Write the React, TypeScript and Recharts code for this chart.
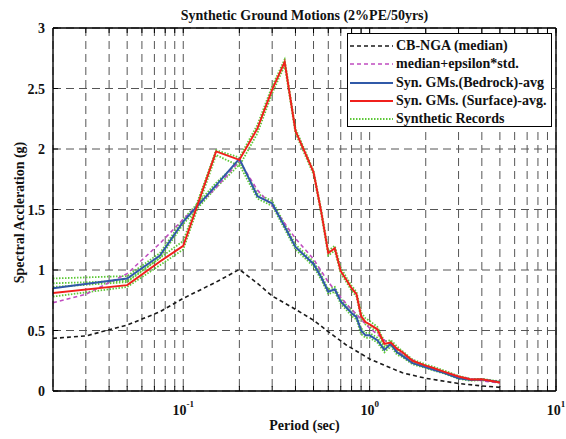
import React from 'react';
import { LineChart, Line, XAxis, YAxis, CartesianGrid, Legend } from 'recharts';

// Periods (sec) used by the synthetic ground-motion spectra
const periods = [0.02, 0.05, 0.075, 0.1, 0.15, 0.2, 0.25, 0.3, 0.35, 0.4, 0.5, 0.55, 0.6, 0.65, 0.7, 0.75, 0.8, 0.85, 0.9, 0.95, 1.0, 1.1, 1.2, 1.3, 1.4, 1.5, 1.7, 2.0, 2.2, 2.5, 3.0, 3.5, 4.0, 5.0];

// Average spectra (g)
const surfaceAvg = [0.81, 0.875, 1.07, 1.2, 1.98, 1.91, 2.17, 2.49, 2.72, 2.15, 1.81, 1.48, 1.14, 1.18, 0.99, 0.92, 0.85, 0.8, 0.62, 0.57, 0.55, 0.51, 0.39, 0.4, 0.35, 0.32, 0.25, 0.21, 0.19, 0.16, 0.12, 0.095, 0.097, 0.07];
const bedrockAvg = [0.85, 0.93, 1.12, 1.4, 1.7, 1.92, 1.61, 1.55, 1.36, 1.19, 1.05, 0.94, 0.82, 0.84, 0.74, 0.69, 0.645, 0.61, 0.5, 0.46, 0.46, 0.42, 0.34, 0.39, 0.32, 0.29, 0.23, 0.195, 0.175, 0.15, 0.105, 0.09, 0.095, 0.075];

// Individual synthetic records (g)
const recordSurface1 = [0.86, 0.9, 1.1, 1.24, 1.99, 1.93, 2.2, 2.52, 2.74, 2.17, 1.82, 1.5, 1.16, 1.2, 1.02, 0.94, 0.87, 0.82, 0.65, 0.6, 0.58, 0.53, 0.41, 0.42, 0.37, 0.33, 0.26, 0.22, 0.2, 0.17, 0.125, 0.1, 0.1, 0.075];
const recordSurface2 = [0.78, 0.86, 1.04, 1.17, 1.95, 1.86, 2.13, 2.46, 2.69, 2.13, 1.79, 1.46, 1.12, 1.16, 0.97, 0.9, 0.83, 0.78, 0.6, 0.55, 0.53, 0.49, 0.37, 0.38, 0.33, 0.3, 0.24, 0.2, 0.18, 0.15, 0.11, 0.09, 0.092, 0.068];
const recordBedrock1 = [0.93, 0.95, 1.14, 1.42, 1.72, 1.9, 1.63, 1.57, 1.38, 1.21, 1.07, 0.96, 0.84, 0.86, 0.76, 0.71, 0.67, 0.63, 0.52, 0.48, 0.48, 0.44, 0.36, 0.41, 0.34, 0.3, 0.24, 0.2, 0.18, 0.155, 0.11, 0.095, 0.1, 0.08];
const recordBedrock2 = [0.89, 0.91, 1.1, 1.38, 1.68, 1.87, 1.59, 1.53, 1.34, 1.17, 1.03, 0.92, 0.8, 0.82, 0.72, 0.67, 0.62, 0.59, 0.47, 0.44, 0.44, 0.4, 0.32, 0.37, 0.3, 0.28, 0.22, 0.19, 0.17, 0.145, 0.1, 0.085, 0.09, 0.072];

// CB-NGA target spectra
const ngaPeriods = [0.02, 0.03, 0.05, 0.075, 0.1, 0.15, 0.2, 0.25, 0.3, 0.4, 0.5, 0.6, 0.75, 1.0, 1.5, 2.0, 3.0, 4.0, 5.0];
const ngaMedian = [0.435, 0.455, 0.545, 0.655, 0.766, 0.9, 1.005, 0.89, 0.785, 0.675, 0.585, 0.49, 0.38, 0.265, 0.15, 0.105, 0.062, 0.042, 0.03];
const ngaPlusEps = [0.73, 0.8, 0.97, 1.22, 1.42, 1.68, 1.9, 1.66, 1.53, 1.26, 1.09, 0.9, 0.72, 0.52, 0.3, 0.2, 0.12, 0.085, 0.065];

// Axis ticks
const xTicks = [0.03, 0.04, 0.05, 0.06, 0.07, 0.08, 0.09, 0.1, 0.2, 0.3, 0.4, 0.5, 0.6, 0.7, 0.8, 0.9, 1, 2, 3, 4, 5, 6, 7, 8, 9, 10];
const decadeExponent: Record<string, string> = { '0.1': '-1', '1': '0', '10': '1' };
const yTicks = [0, 0.5, 1, 1.5, 2, 2.5, 3];

const legendItems = [
  { label: 'CB-NGA (median)', color: '#1a1a1a', dash: '4 3', width: 1.6 },
  { label: 'median+epsilon*std.', color: '#c04cc0', dash: '4 3', width: 1.6 },
  { label: 'Syn. GMs.(Bedrock)-avg', color: '#3059a8', dash: undefined, width: 2 },
  { label: 'Syn. GMs. (Surface)-avg.', color: '#f0201c', dash: undefined, width: 2 },
  { label: 'Synthetic Records', color: '#5cc836', dash: '1.5 1.5', width: 1.8 },
];

const SERIF = '"Liberation Serif", "Times New Roman", serif';
const FONT_SIZE = 14;
const GREEN = '#5cc836';

const toRows = (xs: number[], ys: number[]) => xs.map((T, i) => ({ T, sa: ys[i] }));

const surfaceRows = toRows(periods, surfaceAvg);
const bedrockRows = toRows(periods, bedrockAvg);
const recordRows = [recordSurface1, recordSurface2, recordBedrock1, recordBedrock2].map((r) => toRows(periods, r));
const medianRows = toRows(ngaPeriods, ngaMedian);
const plusEpsRows = toRows(ngaPeriods, ngaPlusEps);

function BottomTick(props: any) {
  const { x, y, payload } = props;
  const exp = decadeExponent[String(payload.value)];
  return (
    <g>
      <line x1={x} y1={y} x2={x} y2={y - 5} stroke="#000" strokeWidth={1} />
      {exp !== undefined && (
        <text x={x} y={y + 24} textAnchor="middle" fontFamily={SERIF} fontWeight="bold" fontSize={FONT_SIZE} fill="#111">
          10
          <tspan dy={-8} fontSize={9}>{exp}</tspan>
        </text>
      )}
    </g>
  );
}

function TopTick(props: any) {
  const { x, y } = props;
  return <line x1={x} y1={y} x2={x} y2={y + 5} stroke="#000" strokeWidth={1} />;
}

function LeftTick(props: any) {
  const { x, y, payload } = props;
  return (
    <g>
      <line x1={x} y1={y} x2={x + 5} y2={y} stroke="#000" strokeWidth={1} />
      <text x={x - 8} y={y + 5} textAnchor="end" fontFamily={SERIF} fontWeight="bold" fontSize={FONT_SIZE} fill="#111">
        {payload.value}
      </text>
    </g>
  );
}

function RightTick(props: any) {
  const { x, y } = props;
  return <line x1={x} y1={y} x2={x - 5} y2={y} stroke="#000" strokeWidth={1} />;
}

function LegendBox() {
  return (
    <div
      style={{
        width: 205,
        height: 94,
        boxSizing: 'border-box',
        border: '1px solid #000',
        background: '#fff',
        paddingTop: 3,
      }}
    >
      {legendItems.map((it) => (
        <div key={it.label} style={{ display: 'flex', alignItems: 'center', height: 18.3 }}>
          <svg width={48} height={10} style={{ flex: 'none' }}>
            <line x1={2} y1={5} x2={45} y2={5} stroke={it.color} strokeWidth={it.width} strokeDasharray={it.dash} />
          </svg>
          <span style={{ fontFamily: SERIF, fontWeight: 'bold', fontSize: FONT_SIZE, color: '#111', whiteSpace: 'nowrap' }}>
            {it.label}
          </span>
        </div>
      ))}
    </div>
  );
}

export default function App() {
  return (
    <div style={{ position: 'absolute', left: 0, top: 0, width: 566, height: 439, background: '#fff' }}>
      <LineChart width={566} height={439} margin={{ top: 0, right: 0, bottom: 0, left: 0 }}>
        <CartesianGrid stroke="#555" strokeDasharray="8 5" strokeWidth={1} />
        <XAxis
          dataKey="T"
          type="number"
          scale="log"
          domain={[0.02, 10]}
          allowDataOverflow
          ticks={xTicks}
          interval={0}
          height={48}
          tickSize={0}
          tickMargin={0}
          tickLine={false}
          axisLine={{ stroke: '#000', strokeWidth: 1.4 }}
          tick={<BottomTick />}
          label={{
            content: (p: any) => (
              <text
                x={p.viewBox.x + p.viewBox.width / 2}
                y={p.viewBox.y + 39}
                textAnchor="middle"
                fontFamily={SERIF}
                fontWeight="bold"
                fontSize={FONT_SIZE}
                fill="#111"
              >
                Period (sec)
              </text>
            ),
          }}
        />
        <XAxis
          xAxisId="top"
          orientation="top"
          dataKey="T"
          type="number"
          scale="log"
          domain={[0.02, 10]}
          allowDataOverflow
          ticks={xTicks}
          interval={0}
          height={28}
          tickSize={0}
          tickMargin={0}
          tickLine={false}
          axisLine={{ stroke: '#000', strokeWidth: 1.4 }}
          tick={<TopTick />}
          label={{
            content: (p: any) => (
              <text
                x={p.viewBox.x + p.viewBox.width / 2}
                y={20}
                textAnchor="middle"
                fontFamily={SERIF}
                fontWeight="bold"
                fontSize={FONT_SIZE}
                fill="#111"
              >
                Synthetic Ground Motions (2%PE/50yrs)
              </text>
            ),
          }}
        />
        <YAxis
          type="number"
          domain={[0, 3]}
          ticks={yTicks}
          interval={0}
          width={53}
          tickSize={0}
          tickMargin={0}
          tickLine={false}
          axisLine={{ stroke: '#000', strokeWidth: 1.4 }}
          tick={<LeftTick />}
          label={{
            content: (p: any) => {
              const cx = 24;
              const cy = p.viewBox.y + p.viewBox.height / 2 + 3;
              return (
                <text
                  x={cx}
                  y={cy}
                  transform={`rotate(-90 ${cx} ${cy})`}
                  textAnchor="middle"
                  fontFamily={SERIF}
                  fontWeight="bold"
                  fontSize={FONT_SIZE}
                  fill="#111"
                >
                  Spectral Accleration (g)
                </text>
              );
            },
          }}
        />
        <YAxis
          yAxisId="right"
          orientation="right"
          type="number"
          domain={[0, 3]}
          ticks={yTicks}
          interval={0}
          width={10}
          tickSize={0}
          tickMargin={0}
          tickLine={false}
          axisLine={{ stroke: '#000', strokeWidth: 1.4 }}
          tick={<RightTick />}
        />

        {recordRows.map((rows, i) => (
          <Line
            key={`rec-${i}`}
            data={rows}
            dataKey="sa"
            stroke={GREEN}
            strokeWidth={1.8}
            strokeDasharray="1.5 1.5"
            dot={false}
            activeDot={false}
            isAnimationActive={false}
            legendType="none"
          />
        ))}
        <Line data={medianRows} dataKey="sa" stroke="#1a1a1a" strokeWidth={1.6} strokeDasharray="4 3" dot={false} isAnimationActive={false} />
        <Line data={plusEpsRows} dataKey="sa" stroke="#c04cc0" strokeWidth={1.6} strokeDasharray="4 3" dot={false} isAnimationActive={false} />
        <Line data={bedrockRows} dataKey="sa" stroke="#3059a8" strokeWidth={2} dot={false} isAnimationActive={false} />
        <Line data={surfaceRows} dataKey="sa" stroke="#f0201c" strokeWidth={2} dot={false} isAnimationActive={false} />

        <Legend
          layout="vertical"
          align="center"
          verticalAlign="middle"
          content={() => <LegendBox />}
          wrapperStyle={{ left: 347, top: 33, width: 205, height: 94 }}
        />
      </LineChart>
    </div>
  );
}
